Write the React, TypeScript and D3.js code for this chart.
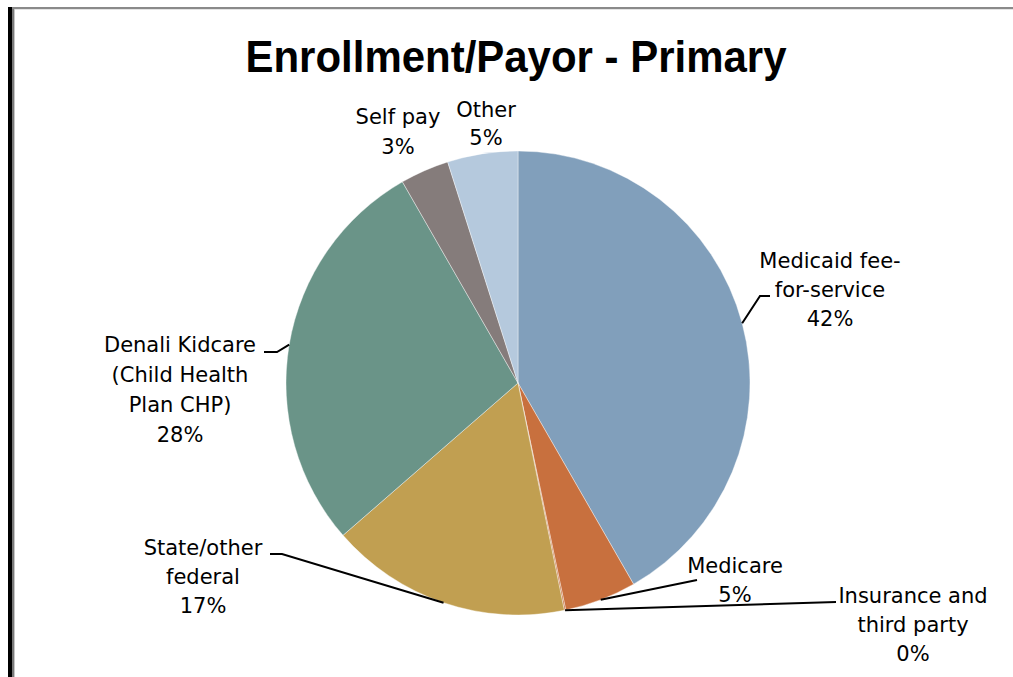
import React, { useRef, useEffect } from "react";
import * as d3 from "d3";

// data, clockwise from 12 o'clock
const categories = [
  "Medicaid fee-for-service",
  "Medicare",
  "Insurance and third party",
  "State/other federal",
  "Denali Kidcare (Child Health Plan CHP)",
  "Self pay",
  "Other",
];
const shares = [41.7, 5.0, 0.1, 16.8, 28.1, 3.4, 4.9];
const labelLines = [
  ["Medicaid fee-", "for-service"],
  ["Medicare"],
  ["Insurance and", "third party"],
  ["State/other", "federal"],
  ["Denali Kidcare", "(Child Health", "Plan CHP)"],
  ["Self pay"],
  ["Other"],
];
const colors = ["#819fbb", "#c8703e", "#c8703e", "#c19f51", "#6a9488", "#857c7b", "#b5c9dd"];

// label layout: text center x, first baseline y, line gap, leader path (elbow, end)
const labelLayout = [
  { x: 830, y: 268, gap: 29, leader: [[760, 296], [770, 296]] },
  { x: 735, y: 573, gap: 29, leader: [[697, 580]] },
  { x: 913, y: 603, gap: 29, leader: [[836, 602]] },
  { x: 203, y: 555, gap: 29, leader: [[282, 554], [270, 554]] },
  { x: 180, y: 352, gap: 30, leader: [[277, 352], [264, 352]] },
  { x: 398, y: 124, gap: 30, leader: [] },
  { x: 486, y: 117, gap: 28, leader: [] },
];

export default function App() {
  const ref = useRef<SVGSVGElement>(null);

  useEffect(() => {
    if (!ref.current) return;
    const svg = d3.select(ref.current);
    svg.selectAll("*").remove();

    const W = 1013;
    const H = 677;
    const cx = 518;
    const cy = 383;
    const r = 232;
    const font = "'DejaVu Sans', 'Liberation Sans', sans-serif";

    svg.append("rect").attr("width", W).attr("height", H).attr("fill", "#fff");

    // frame
    svg.append("rect").attr("x", 8).attr("y", 7).attr("width", W - 8).attr("height", 2).attr("fill", "#8a8a8a");
    svg.append("rect").attr("x", 12).attr("y", 9).attr("width", W - 12).attr("height", 1).attr("fill", "#e4e4e4");
    svg.append("rect").attr("x", 8).attr("y", 7).attr("width", 4).attr("height", H - 7).attr("fill", "#000");
    svg.append("rect").attr("x", 12).attr("y", 9).attr("width", 2).attr("height", H - 9).attr("fill", "#7a7a7a");
    svg.append("rect").attr("x", 14).attr("y", 9).attr("width", 1).attr("height", H - 9).attr("fill", "#c8c8c8");

    // title
    svg
      .append("text")
      .attr("x", 516)
      .attr("y", 72)
      .attr("text-anchor", "middle")
      .attr("font-family", "'Liberation Sans', Arial, sans-serif")
      .attr("font-weight", "bold")
      .attr("font-size", 45)
      .attr("textLength", 541)
      .attr("lengthAdjust", "spacingAndGlyphs")
      .text("Enrollment/Payor - Primary");

    const data = categories.map((c, i) => ({ name: c, value: shares[i], i }));
    const pie = d3
      .pie<(typeof data)[number]>()
      .sort(null)
      .value((d) => d.value);
    const arcs = pie(data);
    const arc = d3
      .arc<d3.PieArcDatum<(typeof data)[number]>>()
      .innerRadius(0)
      .outerRadius(r);

    const g = svg.append("g").attr("transform", `translate(${cx},${cy})`);
    g.selectAll("path")
      .data(arcs)
      .enter()
      .append("path")
      .attr("d", arc)
      .attr("fill", (d) => colors[d.data.i])
      .attr("stroke", "#fff")
      .attr("stroke-width", 0.4);

    // leader lines from the slice's mid angle on the rim
    arcs.forEach((a) => {
      const lay = labelLayout[a.data.i];
      if (!lay.leader.length) return;
      const mid = (a.startAngle + a.endAngle) / 2;
      const start: [number, number] = [cx + r * Math.sin(mid), cy - r * Math.cos(mid)];
      const pts = [start, ...(lay.leader as [number, number][])];
      svg
        .append("path")
        .attr("d", d3.line()(pts))
        .attr("fill", "none")
        .attr("stroke", "#000")
        .attr("stroke-width", 2);
    });

    // labels
    arcs.forEach((a) => {
      const lay = labelLayout[a.data.i];
      const lines = [...labelLines[a.data.i], `${Math.round(a.data.value)}%`];
      const t = svg
        .append("text")
        .attr("text-anchor", "middle")
        .attr("font-family", font)
        .attr("font-size", 21)
        .attr("fill", "#000");
      lines.forEach((ln, k) => {
        t.append("tspan")
          .attr("x", lay.x)
          .attr("y", lay.y + k * lay.gap)
          .text(ln);
      });
    });
  }, []);

  return (
    <svg
      ref={ref}
      width={1013}
      height={677}
      style={{ position: "absolute", left: 0, top: 0, display: "block" }}
    />
  );
}
